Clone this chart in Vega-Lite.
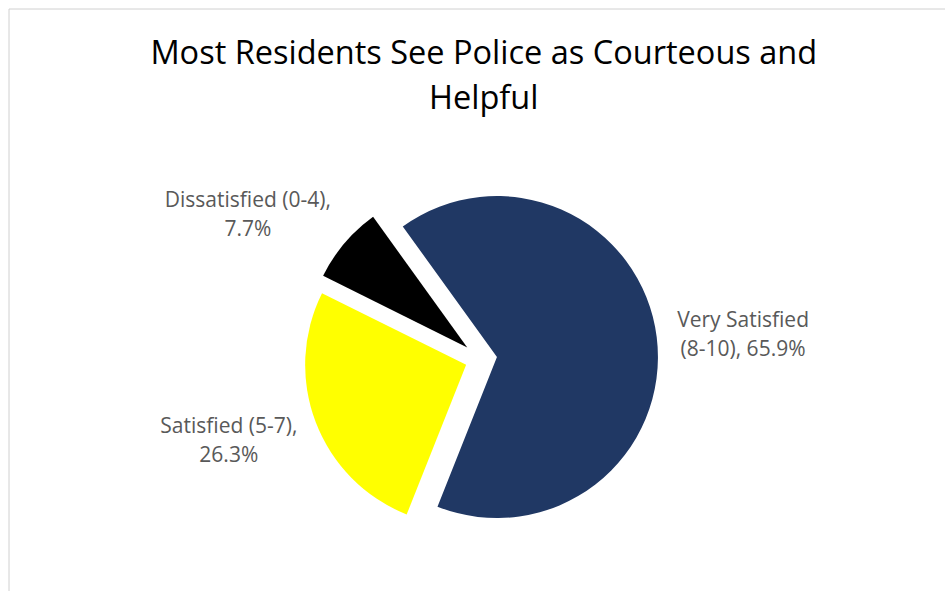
{
  "$schema": "https://vega.github.io/schema/vega-lite/v6.json",
  "width": 936.5,
  "height": 582.5,
  "autosize": {"type": "none"},
  "padding": {"left": 8.5, "top": 8.5, "right": 0, "bottom": 0},
  "background": "white",
  "view": {"stroke": "#d0d0d0", "strokeWidth": 1, "fill": "white"},
  "config": {"view": {"stroke": "#d0d0d0", "strokeWidth": 1}, "font": "Open Sans"},
  "title": {
    "text": ["Most Residents See Police as Courteous and", "Helpful"],
    "anchor": "middle",
    "frame": "group",
    "font": "Open Sans",
    "fontSize": 32.5,
    "fontWeight": "normal",
    "color": "#000000",
    "lineHeight": 45,
    "baseline": "alphabetic",
    "offset": -133,
    "dx": 7
  },
  "data": {
    "values": [
      {"category": "Very Satisfied (8-10)", "label": "Very Satisfied\n(8-10), 65.9%", "pct": 65.9},
      {"category": "Satisfied (5-7)", "label": "Satisfied (5-7),\n26.3%", "pct": 26.3},
      {"category": "Dissatisfied (0-4)", "label": "Dissatisfied (0-4),\n7.7%", "pct": 7.7}
    ]
  },
  "transform": [
    {"stack": "pct", "groupby": [], "sort": [{"field": "pct", "order": "descending"}], "as": ["start", "end"]}
  ],
  "layer": [
    {
      "transform": [{"filter": {"field": "category", "equal": "Very Satisfied (8-10)"}}],
      "mark": {"type": "arc", "radius": 161, "xOffset": 20.2, "yOffset": 57.3},
      "encoding": {
        "theta": {"field": "start", "type": "quantitative", "stack": null, "scale": {"domain": [0, 99.9], "range": [-0.6248, 5.6584]}},
        "theta2": {"field": "end"},
        "color": {"field": "category", "type": "nominal", "legend": null,
          "scale": {"domain": ["Very Satisfied (8-10)", "Satisfied (5-7)", "Dissatisfied (0-4)"], "range": ["#203864", "#FFFF00", "#000000"]}}
      }
    },
    {
      "transform": [{"filter": {"field": "category", "equal": "Satisfied (5-7)"}}],
      "mark": {"type": "arc", "radius": 161, "xOffset": -10.6, "yOffset": 65.1},
      "encoding": {
        "theta": {"field": "start", "type": "quantitative", "stack": null},
        "theta2": {"field": "end"},
        "color": {"field": "category", "type": "nominal", "legend": null}
      }
    },
    {
      "transform": [{"filter": {"field": "category", "equal": "Dissatisfied (0-4)"}}],
      "mark": {"type": "arc", "radius": 161, "xOffset": -9.5, "yOffset": 47.7},
      "encoding": {
        "theta": {"field": "start", "type": "quantitative", "stack": null},
        "theta2": {"field": "end"},
        "color": {"field": "category", "type": "nominal", "legend": null}
      }
    },
    {
      "transform": [
        {"filter": {"field": "category", "equal": "Very Satisfied (8-10)"}},
        {"fold": ["start", "end"], "as": ["k", "v"]}
      ],
      "mark": {"type": "text", "radius": 264, "dx": 0, "dy": -6, "xOffset": 4.3, "yOffset": 59.3,
        "font": "Open Sans", "fontSize": 21, "lineHeight": 29, "lineBreak": "\n", "color": "#595959", "align": "center", "baseline": "middle"},
      "encoding": {
        "theta": {"field": "v", "aggregate": "mean", "type": "quantitative"},
        "text": {"field": "label"}
      }
    },
    {
      "transform": [
        {"filter": {"field": "category", "equal": "Satisfied (5-7)"}},
        {"fold": ["start", "end"], "as": ["k", "v"]}
      ],
      "mark": {"type": "text", "radius": 269, "dx": -1, "dy": -28, "xOffset": 4.3, "yOffset": 59.3,
        "font": "Open Sans", "fontSize": 21, "lineHeight": 29, "lineBreak": "\n", "color": "#595959", "align": "center", "baseline": "middle"},
      "encoding": {
        "theta": {"field": "v", "aggregate": "mean", "type": "quantitative"},
        "text": {"field": "label"}
      }
    },
    {
      "transform": [
        {"filter": {"field": "category", "equal": "Dissatisfied (0-4)"}},
        {"fold": ["start", "end"], "as": ["k", "v"]}
      ],
      "mark": {"type": "text", "radius": 260, "dx": -35, "dy": 10, "xOffset": 4.3, "yOffset": 59.3,
        "font": "Open Sans", "fontSize": 21, "lineHeight": 29, "lineBreak": "\n", "color": "#595959", "align": "center", "baseline": "middle"},
      "encoding": {
        "theta": {"field": "v", "aggregate": "mean", "type": "quantitative"},
        "text": {"field": "label"}
      }
    }
  ]
}
